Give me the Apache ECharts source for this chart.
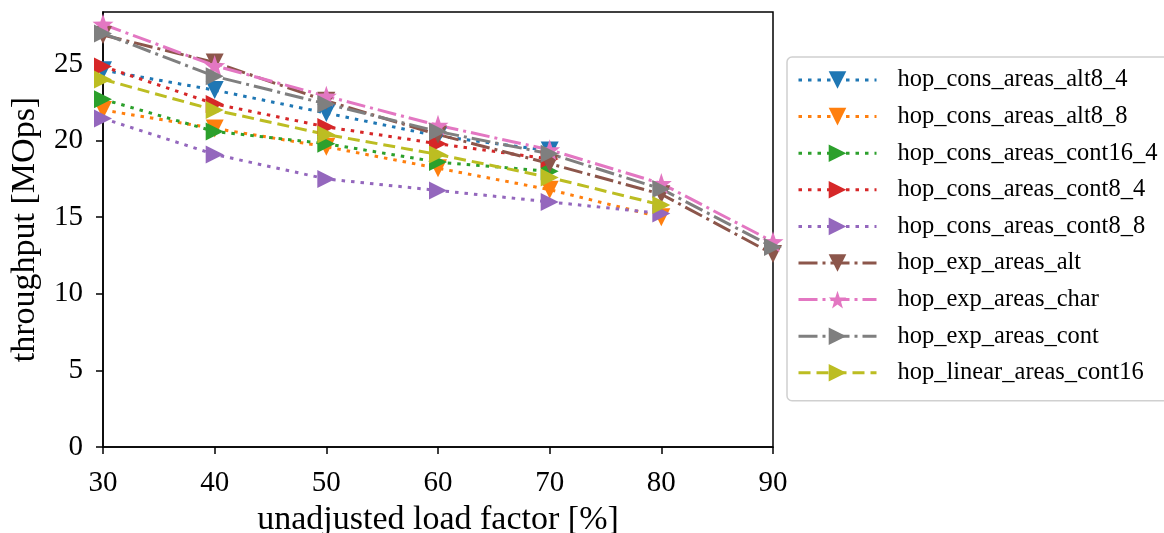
<!DOCTYPE html>
<html>
<head>
<meta charset="utf-8">
<script src="https://cdn.jsdelivr.net/npm/echarts@6/dist/echarts.min.js"></script>
<style>
  html, body { margin: 0; padding: 0; background: #fff; }
  #chart { width: 1164px; height: 533px; }
</style>
</head>
<body>
<div id="chart"></div>
<script>
var loadFactor = [30, 40, 50, 60, 70, 80, 90];

var consAlt84    = [24.6, 23.3, 21.8, 20.3, 19.35];
var consAlt88    = [22.0, 20.8, 19.6, 18.2, 16.8, 15.0];
var consCont164  = [22.7, 20.6, 19.8, 18.6, 18.0];
var consCont84   = [24.85, 22.4, 20.9, 19.8, 18.8];
var consCont88   = [21.45, 19.1, 17.5, 16.75, 16.0, 15.25];
var expAlt       = [26.9, 25.1, 22.6, 20.4, 18.5, 16.5, 12.6];
var expChar      = [27.6, 24.9, 22.9, 21.0, 19.4, 17.2, 13.4];
var expCont      = [27.0, 24.2, 22.4, 20.6, 19.15, 16.85, 13.05];
var linearCont16 = [24.0, 22.0, 20.4, 19.1, 17.6, 15.8];

var yTicks = [0, 5, 10, 15, 20, 25];

var star = 'path://M0,-10 L2.35,-3.24 L9.51,-3.09 L3.8,1.24 L5.88,8.09 L0,4 L-5.88,8.09 L-3.8,1.24 L-9.51,-3.09 L-2.35,-3.24 Z';
var dotted = [3.5, 6];
var dashdot = [19, 5, 3, 5];
var dashed = [12, 6];

function pairs(vals) {
    return vals.map(function (v, i) { return [loadFactor[i], v]; });
}

function mk(name, vals, color, dash, symbol, rot, size) {
    return {
        name: name,
        type: 'line',
        data: pairs(vals),
        symbol: symbol,
        symbolRotate: rot,
        symbolSize: size,
        showAllSymbol: true,
        lineStyle: { color: color, width: 3, type: dash },
        itemStyle: { color: color },
        emphasis: { disabled: true },
        animation: false
    };
}

var series = [
    mk('hop_cons_areas_alt8_4', consAlt84, '#1f77b4', dotted, 'triangle', 180, 18),
    mk('hop_cons_areas_alt8_8', consAlt88, '#ff7f0e', dotted, 'triangle', 180, 18),
    mk('hop_cons_areas_cont16_4', consCont164, '#2ca02c', dotted, 'triangle', -90, 18),
    mk('hop_cons_areas_cont8_4', consCont84, '#d62728', dotted, 'triangle', -90, 18),
    mk('hop_cons_areas_cont8_8', consCont88, '#9467bd', dotted, 'triangle', -90, 18),
    mk('hop_exp_areas_alt', expAlt, '#8c564b', dashdot, 'triangle', 180, 18),
    mk('hop_exp_areas_char', expChar, '#e377c2', dashdot, star, 0, 21),
    mk('hop_exp_areas_cont', expCont, '#7f7f7f', dashdot, 'triangle', -90, 18),
    mk('hop_linear_areas_cont16', linearCont16, '#bcbd22', dashed, 'triangle', -90, 18)
];

var font = 'Liberation Serif';
var chart = echarts.init(document.getElementById('chart'));
chart.setOption({
    backgroundColor: '#fff',
    animation: false,
    grid: {
        left: 103, right: 391, top: 12, bottom: 86,
        outerBoundsMode: 'none',
        containLabel: false,
        show: true, borderColor: '#000', borderWidth: 1.5, backgroundColor: 'transparent'
    },
    legend: {
        orient: 'vertical',
        left: 787, top: 57,
        itemWidth: 78, itemHeight: 22,
        itemGap: 10.6,
        padding: [10, 70, 15, 10],
        borderColor: '#d0d0d0', borderWidth: 1.5, borderRadius: 5,
        backgroundColor: '#fff',
        symbolRotate: 'inherit',
        lineStyle: { width: 3 },
        textStyle: { fontFamily: font, fontSize: 24.5, lineHeight: 26, color: '#000', padding: [0, 0, 0, 16] },
        data: series.map(function (s) { return s.name; })
    },
    xAxis: {
        type: 'value',
        min: 30, max: 90, interval: 10,
        name: 'unadjusted load factor [%]',
        nameLocation: 'middle', nameGap: 54,
        nameTextStyle: { fontFamily: font, fontSize: 34, color: '#000' },
        axisLine: { show: true, lineStyle: { color: '#000', width: 1.5 } },
        axisTick: { show: true, length: 7, lineStyle: { color: '#000', width: 1.5 } },
        axisLabel: { fontFamily: font, fontSize: 29, color: '#000', margin: 22 },
        splitLine: { show: false }
    },
    yAxis: {
        type: 'value',
        min: 0, max: 28.4, interval: 5,
        name: 'throughput [MOps]',
        nameLocation: 'middle', nameGap: 61, nameRotate: 90,
        nameTextStyle: { fontFamily: font, fontSize: 34, color: '#000' },
        axisLine: { show: true, lineStyle: { color: '#000', width: 1.5 } },
        axisTick: { show: true, length: 7, lineStyle: { color: '#000', width: 1.5 } },
        axisLabel: {
            fontFamily: font, fontSize: 29, color: '#000', margin: 20,
            showMaxLabel: false,
            formatter: function (v) { return yTicks.indexOf(v) >= 0 ? String(v) : ''; }
        },
        splitLine: { show: false }
    },
    series: series
});
</script>
</body>
</html>
